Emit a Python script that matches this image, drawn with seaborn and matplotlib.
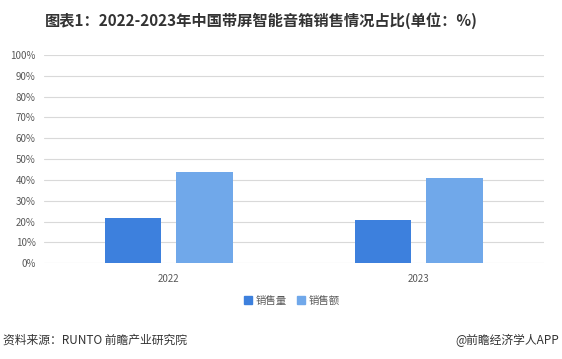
import pandas as pd
import matplotlib.pyplot as plt
import seaborn as sns

# 数据
years = ["2022", "2023"]
sales_volume = [21.6, 20.7]   # 销售量 占比
sales_amount = [43.8, 40.8]   # 销售额 占比
series_names = ["销售量", "销售额"]
colors = ["#3d80dd", "#70a8ea"]

df = pd.DataFrame({
    "年份": years * 2,
    "类型": [series_names[0]] * 2 + [series_names[1]] * 2,
    "占比": sales_volume + sales_amount,
})

sns.set_style("white")
plt.rcParams["font.family"] = ["Noto Sans CJK SC", "DejaVu Sans"]

fig = plt.figure(figsize=(5.62, 3.59), dpi=100)
ax = fig.add_axes([0.078, 0.267, 0.89, 0.58])

sns.barplot(data=df, x="年份", y="占比", hue="类型", palette=colors,
            width=0.572, gap=0.21, ax=ax, legend=False, saturation=1,
            linewidth=0)

ax.set_ylim(0, 100)
ax.set_yticks(range(0, 101, 10))
ax.set_yticklabels([f"{v}%" for v in range(0, 101, 10)], fontsize=7, color="#595959")
ax.tick_params(axis="x", labelsize=7, colors="#595959", length=0, pad=8)
ax.tick_params(axis="y", length=0, pad=6)
ax.grid(axis="y", color="#d9d9d9", linewidth=0.8)
ax.set_axisbelow(True)
for s in ax.spines.values():
    s.set_visible(False)
ax.set_xlabel("")
ax.set_ylabel("")

# 图例
handles = [plt.Rectangle((0, 0), 1, 1, color=c) for c in colors]
fig.legend(handles, series_names, loc="center", bbox_to_anchor=(0.52, 0.163),
           ncol=2, frameon=False, fontsize=7.5, handlelength=0.7, handleheight=0.7,
           columnspacing=1.0, handletextpad=0.4, labelcolor="#595959")

fig.text(0.465, 0.944, "图表1：2022-2023年中国带屏智能音箱销售情况占比(单位：%)",
         ha="center", va="center", fontsize=11, fontweight="bold", color="#333333")
fig.text(0.005, 0.052, "资料来源：RUNTO 前瞻产业研究院", ha="left", va="center",
         fontsize=8.5, color="#333333")
fig.text(0.995, 0.052, "@前瞻经济学人APP", ha="right", va="center",
         fontsize=8.5, color="#333333")

fig.savefig("out.png", dpi=100)
